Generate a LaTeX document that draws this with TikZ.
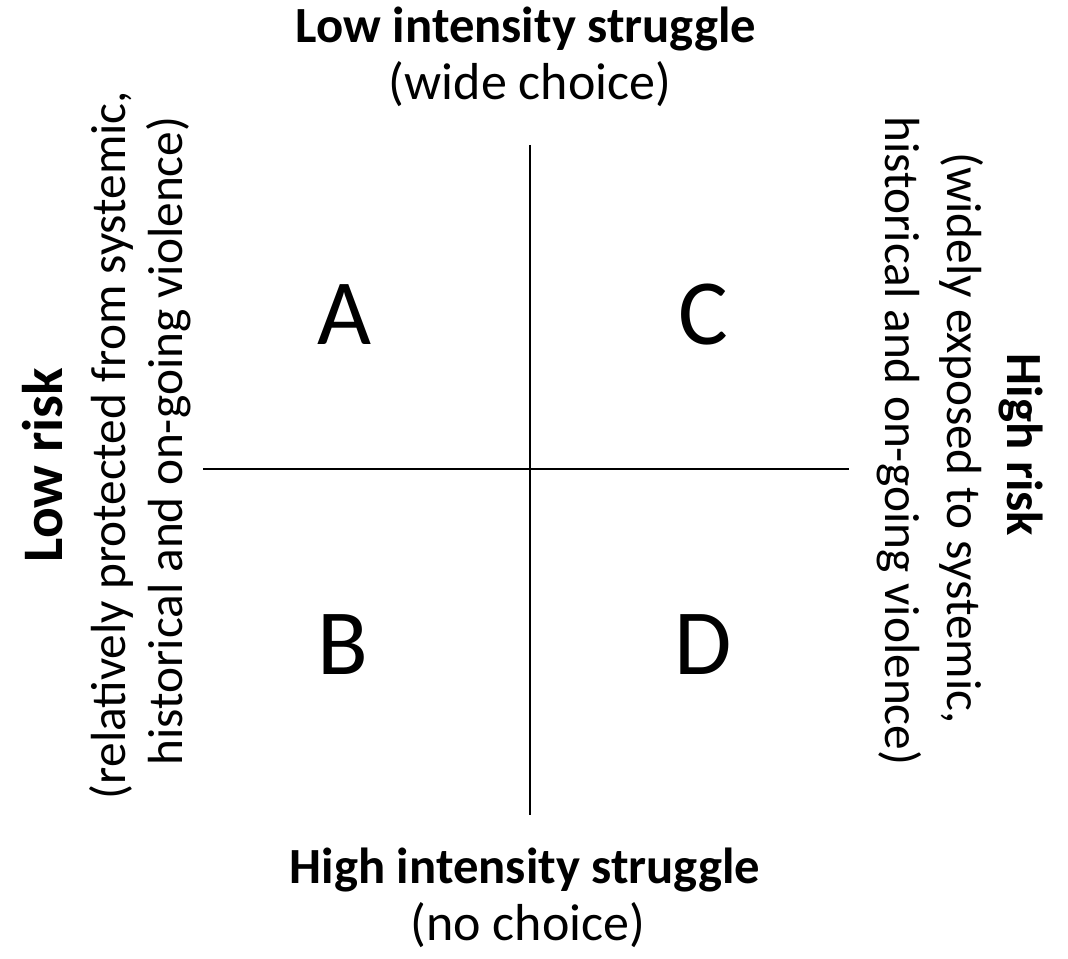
\documentclass[tikz,border=0pt]{standalone}
\usepackage{fontspec}
\setmainfont{Carlito}
\begin{document}
\begin{tikzpicture}[x=0.75pt,y=-0.75pt,
  lbl/.style={inner sep=0pt, anchor=base, font=\fontsize{37}{44}\selectfont},
  tb/.style={inner sep=0pt, anchor=base, font=\fontsize{39}{46}\selectfont},
  hd/.style={inner sep=0pt, anchor=base, font=\fontsize{38}{46}\selectfont\bfseries},
  hdl/.style={inner sep=0pt, anchor=base, font=\fontsize{43}{50}\selectfont\bfseries},
  quad/.style={inner sep=0pt, anchor=base, font=\fontsize{70}{80}\selectfont},
  axis/.style={line width=1.4pt, black}]
\useasboundingbox (0,0) rectangle (1068,959);
\coordinate (vt) at (530,145);
\coordinate (vb) at (530,815);
\coordinate (hl) at (203,469);
\coordinate (hr) at (849,469);
\draw[axis] (vt) -- (vb);
\draw[axis] (hl) -- (hr);
\node[hd] (top1) at (526,43) {Low intensity struggle};
\node[tb] (top2) at (530,100) {(wide choice)};
\node[hd] (bot1) at (525,883) {High intensity struggle};
\node[tb] (bot2) at (528,940) {(no choice)};
\node[quad] (A) at (344,345) {A};
\node[quad] (C) at (703,345) {C};
\node[quad] (B) at (343,674) {B};
\node[quad] (D) at (703,674) {D};
\node[hdl, rotate=90] (l1) at (62,465) {Low risk};
\node[lbl, rotate=90] (l2) at (125,445) {(relatively protected from systemic,};
\node[lbl, rotate=90] (l3) at (182,441) {historical and on-going violence)};
\node[hd, rotate=-90] (r1) at (1007,445) {High risk};
\node[lbl, rotate=-90] (r2) at (947,438) {(widely exposed to systemic,};
\node[lbl, rotate=-90] (r3) at (885,441) {historical and on-going violence)};
\end{tikzpicture}
\end{document}
